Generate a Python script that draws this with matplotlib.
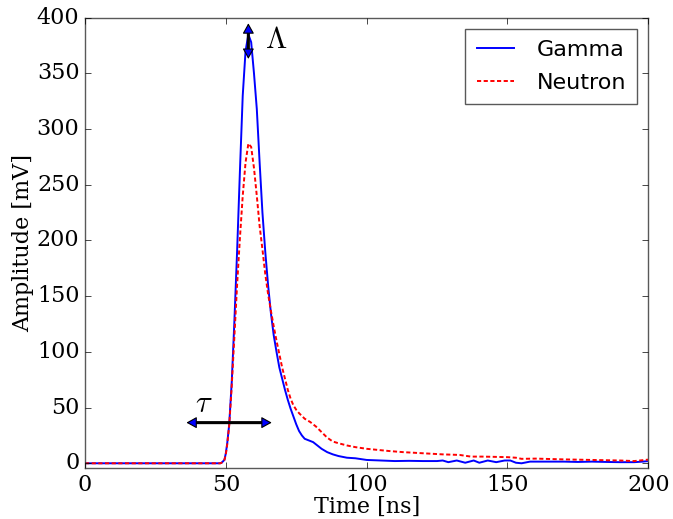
import numpy as np
import matplotlib
matplotlib.use("Agg")
import matplotlib.pyplot as plt

plt.style.use("classic")
plt.rcParams["mathtext.fontset"] = "cm"

# gamma pulse (time in ns, amplitude in mV)
t_gamma = [0, 20, 40, 48, 48.5, 49.5, 50, 50.5, 51.2, 52.1, 53, 54, 55, 56, 57, 58,
           59, 60, 61, 62, 63, 64, 65, 66, 67, 68, 69, 70, 71, 72, 73, 74, 75, 76,
           77, 78, 80, 81, 82, 84, 86, 88, 90, 93, 96, 100, 105, 110, 115, 120, 125,
           127, 129, 132, 135, 138, 140, 143, 146, 149, 151, 153, 155, 158, 165, 170,
           175, 180, 185, 190, 195, 198, 200]
a_gamma = [0, 0, 0, 0, 0.5, 3, 9, 18, 35, 73, 125, 190, 262, 330, 370, 385,
           378, 350, 318, 270, 225, 190, 160, 135, 115, 100, 86, 76, 66, 57, 49, 42, 35, 29,
           25, 22, 20, 19, 17, 13, 10, 8, 6.5, 5, 4.5, 3, 2.5, 2, 2.2, 2, 2,
           2.5, 1, 2.5, 0.5, 2.5, 0.5, 2.5, 1, 2.5, 2.5, 0.5, 0, 1.5, 1.5, 1.5,
           1.2, 1.5, 1.2, 1, 1, 1.5, 2]

# neutron pulse
t_neutron = [0, 20, 40, 48, 48.5, 49.5, 50, 50.5, 51.2, 52, 53, 54, 55, 56, 57, 58,
             59, 60, 61, 62, 63, 64, 65, 66, 67, 68, 69, 70, 71, 72, 73, 74, 75, 76,
             78, 80, 82, 84, 86, 88, 90, 93, 96, 100, 104, 108, 113, 120, 127, 133,
             137, 141, 145, 150, 153, 155, 160, 170, 180, 190, 195, 200]
a_neutron = [0, 0, 0, 0, 0.5, 3, 8, 17, 34, 65, 112, 160, 202, 240, 270, 287,
             284, 265, 240, 213, 192, 170, 152, 137, 123, 110, 98, 86, 76, 66, 58, 52, 48, 45,
             40, 37, 33, 28, 23, 19.5, 18, 16, 14.5, 13, 12, 11, 10, 9, 8, 7.5,
             6, 6, 5.8, 5.5, 5, 4, 4.2, 3.5, 3, 2.5, 2, 3.3]

fig = plt.figure(figsize=(6.73, 5.19), dpi=100, facecolor="white")
ax = fig.add_axes([85 / 673, 1 - 468.3 / 519, (648.3 - 85) / 673, (468.3 - 17.7) / 519])

ax.plot(t_gamma, a_gamma, color="blue", lw=1.4, label="Gamma")
ax.plot(t_neutron, a_neutron, color="red", lw=1.4, dashes=(3, 1.8), label="Neutron")


def double_arrow(p0, p1):
    # thick black shaft, then small blue heads drawn on top
    ax.annotate("", xy=p1, xytext=p0,
                arrowprops=dict(arrowstyle="-", color="black", lw=2.2, shrinkA=3, shrinkB=3))
    ax.annotate("", xy=p1, xytext=p0,
                arrowprops=dict(arrowstyle="<|-|>,head_length=0.45,head_width=0.25",
                                facecolor="blue", edgecolor="black", lw=0.8,
                                mutation_scale=14, shrinkA=0, shrinkB=0))


# peak height and rise time markers
double_arrow((58, 363), (58, 395))
ax.text(68, 380, r"$\Lambda$", fontsize=22, ha="center", va="center")
double_arrow((66.3, 36.5), (36, 36.5))
ax.text(42.2, 54, r"$\tau$", fontsize=22, ha="center", va="center")

ax.set_xlim(0, 200)
ax.set_ylim(-4.5, 400)
ax.set_xticks(np.arange(0, 201, 50))
ax.set_yticks(np.arange(0, 401, 50))
for lab in ax.get_xticklabels() + ax.get_yticklabels():
    lab.set_family("DejaVu Serif")
    lab.set_fontsize(16)
ax.set_xlabel("Time [ns]", family="DejaVu Serif", fontsize=16, labelpad=0)
ax.set_ylabel("Amplitude [mV]", family="DejaVu Serif", fontsize=16, labelpad=2)
for s in ax.spines.values():
    s.set_color("0.35")

leg = ax.legend(loc="upper right", fontsize=16, handlelength=1.7, handletextpad=1.0,
                labelspacing=0.6, borderpad=0.5, numpoints=1)
leg.get_frame().set_edgecolor("0.35")

fig.savefig("out.png", dpi=100, facecolor="white")
